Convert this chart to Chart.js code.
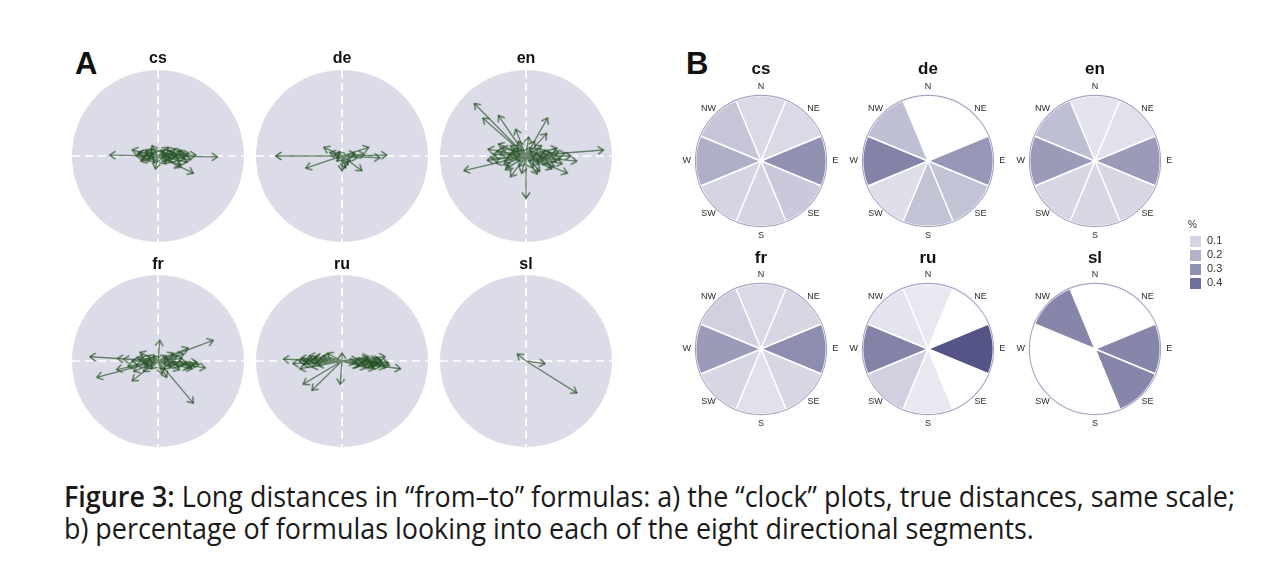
<!DOCTYPE html>
<html>
<head>
<meta charset="utf-8">
<script src="https://cdn.jsdelivr.net/npm/chart.js@4.4.1/dist/chart.umd.min.js"></script>
<style>
  body { margin:0; width:1280px; height:574px; background:#fff; position:relative; overflow:hidden;
         font-family:"Liberation Sans", Arial, sans-serif; color:#111; }
  canvas { position:absolute; }
  .ttl { position:absolute; font-weight:bold; transform:translate(-50%,-50%); white-space:nowrap; }
  .big { position:absolute; font-weight:bold; font-size:31px; line-height:31px; }
  .leg { position:absolute; font-size:11px; color:#333; }
  .sw { position:absolute; width:11px; height:11px; }
  #cap { position:absolute; left:64px; top:480px; font-family:"Open Sans", sans-serif; font-size:28.5px;
         line-height:32px; color:#1a1a1a; white-space:nowrap; transform-origin:0 0; }
</style>
</head>
<body>
<div class="big" style="left:75px;top:48px">A</div>
<div class="big" style="left:686px;top:48px">B</div>

<canvas id="a-cs" width="200" height="200" style="left:58px;top:56px"></canvas>
<canvas id="a-de" width="200" height="200" style="left:242px;top:56px"></canvas>
<canvas id="a-en" width="200" height="200" style="left:426px;top:56px"></canvas>
<canvas id="a-fr" width="200" height="200" style="left:58px;top:261px"></canvas>
<canvas id="a-ru" width="200" height="200" style="left:242px;top:261px"></canvas>
<canvas id="a-sl" width="200" height="200" style="left:426px;top:261px"></canvas>

<canvas id="b-cs" width="170" height="170" style="left:676px;top:76px"></canvas>
<canvas id="b-de" width="170" height="170" style="left:843px;top:76px"></canvas>
<canvas id="b-en" width="170" height="170" style="left:1010px;top:76px"></canvas>
<canvas id="b-fr" width="170" height="170" style="left:676px;top:264px"></canvas>
<canvas id="b-ru" width="170" height="170" style="left:843px;top:264px"></canvas>
<canvas id="b-sl" width="170" height="170" style="left:1010px;top:264px"></canvas>

<div class="ttl" style="left:158px;top:58px;font-size:16px">cs</div>
<div class="ttl" style="left:342px;top:58px;font-size:16px">de</div>
<div class="ttl" style="left:526px;top:58px;font-size:16px">en</div>
<div class="ttl" style="left:158px;top:264px;font-size:16px">fr</div>
<div class="ttl" style="left:342px;top:264px;font-size:16px">ru</div>
<div class="ttl" style="left:526px;top:264px;font-size:16px">sl</div>

<div class="ttl" style="left:761px;top:69px;font-size:17px">cs</div>
<div class="ttl" style="left:928px;top:69px;font-size:17px">de</div>
<div class="ttl" style="left:1095px;top:69px;font-size:17px">en</div>
<div class="ttl" style="left:761px;top:258px;font-size:17px">fr</div>
<div class="ttl" style="left:928px;top:258px;font-size:17px">ru</div>
<div class="ttl" style="left:1095px;top:258px;font-size:17px">sl</div>

<div id="legend"></div>

<div id="cap"><span id="line1"><span style="font-weight:600">Figure 3:</span> Long distances in “from–to” formulas: a) the “clock” plots, true distances, same scale;</span><br>b) percentage of formulas looking into each of the eight directional segments.</div>

<script>
// --- panel A: arrow end points, circle radius = 100
const arrowsCs = [[-56,1],[69,-1],[41,-20],[-30,7],[-7,12],[12,10],[44,1],[26,-13],[-3,-15],[-17,-1],
  [18,4],[24,-4],[-12,-5],[30,3],[-22,4],[9,-9],[34,-7],[20,8],[-14,7],[27,-11],[14,-3],[-9,3],[6,6],
  [-18,-4],[38,-4],[22,1],[-25,0],[16,-7],[33,2],[10,2],[-5,-8],[28,6],
  [-20,-6],[-15,5],[-10,-2],[12,-5],[19,-1],[25,5],[-24,3],[8,7],[-8,8],[15,6],[31,-3],[36,3]];
const arrowsDe = [[-77,0],[-42,-14],[-21,10],[31,10],[52,1],[44,-2],[23,-17],[0,-17],[7,-10],[-9,2],
  [-14,4],[10,-6],[15,3],[-6,-6],[18,-2],[4,-14],[-4,5],[26,2]];
const arrowsEn = [[-60,61],[-50,44],[-32,47],[-12,31],[25,44],[24,26],[90,7],[59,-6],[48,-20],[-72,-17],
  [0,-49],[-18,-24],[-44,8],[-40,-3],[36,9],[13,-21],[-22,-14],[31,2],[-9,17],[10,17],
  [-30,4],[-25,-6],[20,-5],[28,4],[-15,8],[15,-10],[-35,-8],[40,-3],[22,6],[-20,2],[8,-14],[-8,-12],
  [-28,10],[33,-12],[18,12],[-12,-4],[45,3],[-38,2],[26,-8],[5,10],[-5,-20],[30,-15],[-18,12],[12,3],
  [52,0],[-45,-5],[38,5],[-24,-16],[16,-18],[3,22],[-32,14],[42,-9],
  [-22,-2],[-16,3],[18,-2],[24,1],[-10,6],[10,-4],[35,-5],[-34,6],[14,8],[-26,-10]];
const arrowsFr = [[-79,5],[-71,-19],[-47,3],[64,24],[55,-8],[41,-49],[2,24],[-30,-23],[10,-19],[35,15],
  [-21,10],[-48,-10],[-17,-12],[45,-2],[-30,0],[-25,-5],[20,-4],[28,3],[-12,6],[15,-8],[-35,-6],[38,-6],
  [22,5],[-20,3],[8,-10],[-8,-9],[30,8],[12,2],[-15,-3],[42,-5],[25,-10],[-40,2],[48,-4],[18,9],[5,-15],
  [-28,-12],[33,-2],[-5,6],
  [-18,-2],[-10,3],[16,-3],[24,-6],[36,-8],[-24,4],[10,6],[30,-4],[-14,-8],[40,-9]];
const arrowsRu = [[-68,2],[-45,-27],[-35,-34],[-2,-27],[68,-9],[54,-2],[50,5],[0,9],[-57,-3],[-49,-9],
  [-17,9],[37,-3],[31,5],[-33,3],[44,2],[20,-6],[-40,2],[-45,-4],[-30,-2],[-38,6],[-25,4],[-50,0],[-35,-7],
  [-28,-5],[-42,-2],[-22,6],[-48,3],[15,-2],[25,0],[35,-4],[45,-6],[20,-6],[40,2],[30,3],[50,-7],[28,-8],
  [38,-9],[18,2],[46,0],[55,-5],[33,-1],[42,-3],
  [-36,0],[-44,1],[-32,5],[24,-3],[36,-6],[48,-3],[30,-2],[40,-5]];
const arrowsSl = [[59,-37],[-10,8],[22,-3]];

// --- panel B: share of formulas per direction
const directions = ['N','NE','E','SE','S','SW','W','NW'];
const segmentWidth = [1,1,1,1,1,1,1,1];
const pctCs = [0.08,0.08,0.30,0.13,0.10,0.10,0.21,0.14];
const pctDe = [0,0,0.28,0.15,0.15,0.07,0.34,0.16];
const pctEn = [0.05,0.06,0.27,0.09,0.09,0.09,0.27,0.16];
const pctFr = [0.08,0.09,0.31,0.09,0.06,0.09,0.27,0.11];
const pctRu = [0.04,0,0.48,0,0.04,0.11,0.34,0.05];
const pctSl = [0,0,0.33,0.33,0,0,0,0.33];
const legendTicks = [0.1,0.2,0.3,0.4];

function pctColor(v) {
  if (v <= 0) return '#ffffff';
  const r = Math.round(245 - 335 * v), b = Math.round(250 - 240 * v);
  return 'rgb(' + r + ',' + r + ',' + b + ')';
}

// open arrow head, tip in the middle of the image
const head = document.createElement('canvas');
head.width = 12; head.height = 12;
(function () {
  const c = head.getContext('2d');
  c.strokeStyle = 'rgba(30,75,30,0.8)';
  c.lineWidth = 1.4;
  c.beginPath(); c.moveTo(0.5, 2); c.lineTo(6, 6); c.lineTo(0.5, 10); c.stroke();
})();

const clockBg = {
  id: 'clockBg',
  beforeDatasetsDraw(chart) {
    const {ctx, scales: {x, y}} = chart;
    const cx = x.getPixelForValue(0), cy = y.getPixelForValue(0);
    const r = x.getPixelForValue(100) - cx;
    ctx.save();
    ctx.fillStyle = '#dcdce8';
    ctx.beginPath(); ctx.arc(cx, cy, r, 0, Math.PI * 2); ctx.fill();
    ctx.strokeStyle = '#fff'; ctx.lineWidth = 1.7; ctx.setLineDash([8, 5]);
    ctx.beginPath();
    ctx.moveTo(cx - r, cy); ctx.lineTo(cx + r, cy);
    ctx.moveTo(cx, cy - r); ctx.lineTo(cx, cy + r);
    ctx.stroke();
    ctx.restore();
  }
};

function clock(id, arrows) {
  const pts = [];
  arrows.forEach(a => { pts.push({x: 0, y: 0}, {x: a[0], y: a[1]}, {x: 0, y: null}); });
  const lim = 100 * 100 / 86;
  new Chart(document.getElementById(id), {
    type: 'scatter',
    data: {
      datasets: [{
        data: pts,
        showLine: true,
        spanGaps: false,
        borderColor: 'rgba(30,75,30,0.62)',
        borderWidth: 1.4,
        pointStyle: head,
        pointRadius: ctx => ctx.dataIndex % 3 === 1 ? 5 : 0,
        rotation: ctx => ctx.raw && ctx.raw.y != null ? Math.atan2(-ctx.raw.y, ctx.raw.x) * 180 / Math.PI : 0,
        clip: false
      }, {
        data: [{x: 0, y: 0}],
        pointRadius: 1.8,
        pointBackgroundColor: '#fff',
        pointBorderWidth: 0
      }]
    },
    options: {
      responsive: false, animation: false, events: [],
      layout: {padding: 0, autoPadding: false},
      scales: {
        x: {type: 'linear', min: -lim, max: lim, display: false},
        y: {type: 'linear', min: -lim, max: lim, display: false}
      },
      plugins: {legend: {display: false}, tooltip: {enabled: false}}
    },
    plugins: [clockBg]
  });
}

const roseLabels = {
  id: 'roseLabels',
  afterDatasetsDraw(chart) {
    const arc = chart.getDatasetMeta(0).data[0];
    const {ctx} = chart;
    const cx = arc.x, cy = arc.y, R = arc.outerRadius;
    ctx.save();
    ctx.strokeStyle = '#a5a5c6'; ctx.lineWidth = 1.1;
    ctx.beginPath(); ctx.arc(cx, cy, R + 0.3, 0, Math.PI * 2); ctx.stroke();
    ctx.fillStyle = '#2b2b2b';
    ctx.font = '9px "Liberation Sans", Arial, sans-serif';
    ctx.textAlign = 'center'; ctx.textBaseline = 'middle';
    chart.data.labels.forEach((lab, i) => {
      const ang = (-90 + 45 * i) * Math.PI / 180;
      ctx.fillText(lab, cx + (R + 9) * Math.cos(ang), cy + (R + 9) * Math.sin(ang));
    });
    ctx.restore();
  }
};

function rose(id, pct) {
  new Chart(document.getElementById(id), {
    type: 'pie',
    data: {
      labels: directions,
      datasets: [{
        data: segmentWidth,
        backgroundColor: pct.map(pctColor),
        borderColor: '#fff',
        borderWidth: 1.4
      }]
    },
    options: {
      responsive: false, animation: false, events: [],
      rotation: -22.5,
      layout: {padding: 19},
      plugins: {legend: {display: false}, tooltip: {enabled: false}}
    },
    plugins: [roseLabels]
  });
}

clock('a-cs', arrowsCs); clock('a-de', arrowsDe); clock('a-en', arrowsEn);
clock('a-fr', arrowsFr); clock('a-ru', arrowsRu); clock('a-sl', arrowsSl);
rose('b-cs', pctCs); rose('b-de', pctDe); rose('b-en', pctEn);
rose('b-fr', pctFr); rose('b-ru', pctRu); rose('b-sl', pctSl);

// legend for panel B
const leg = document.getElementById('legend');
leg.innerHTML = '<div class="leg" style="left:1188px;top:219px;font-size:10px">%</div>' +
  legendTicks.map((t, i) =>
    '<div class="sw" style="left:1190px;top:' + (236 + i * 14) + 'px;background:' + pctColor(t) + '"></div>' +
    '<div class="leg" style="left:1207px;top:' + (234 + i * 14) + 'px">' + t + '</div>').join('');

// stretch caption to the width it has in the figure
const cap = document.getElementById('cap');
const w = document.getElementById('line1').getBoundingClientRect().width;
cap.style.transform = 'scaleX(' + (1171 / w) + ')';
</script>
</body>
</html>
